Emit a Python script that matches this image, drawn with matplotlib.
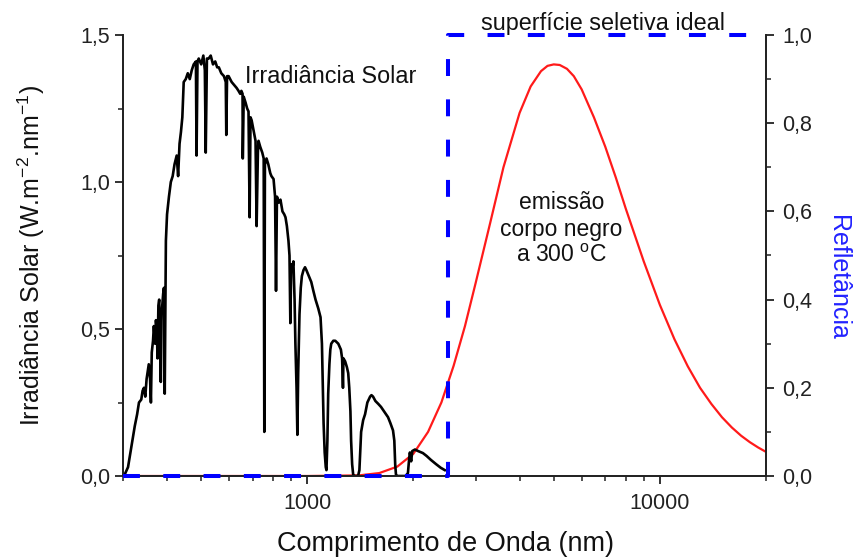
import matplotlib
matplotlib.use("Agg")
import matplotlib.pyplot as plt
from matplotlib.ticker import FixedLocator, FuncFormatter, NullFormatter, MultipleLocator

plt.rcParams['font.family'] = ['Liberation Sans', 'DejaVu Sans']
plt.rcParams['mathtext.fontset'] = 'custom'
plt.rcParams['mathtext.rm'] = 'Liberation Sans'
plt.rcParams['mathtext.it'] = 'Liberation Sans'

# Solar irradiance (nm, W m-2 nm-1)
solar_wl = [302, 310, 318, 324, 329, 333, 338, 341, 344, 347, 350, 355, 358, 360, 362, 365, 367,
            370, 372, 374, 376, 378, 380, 382, 384, 386, 390, 392, 393, 394, 396, 397, 400, 405,
            410, 415, 420, 426, 430, 434, 438, 442, 446, 452, 458, 464, 470, 476, 483, 485, 488,
            492, 500, 507, 512, 515, 519, 525, 532, 540, 548, 555, 561, 570, 580, 587, 589, 592,
            598, 610, 620, 630, 638, 645, 650, 655, 656, 660, 668, 675, 681, 686, 690, 695, 705,
            713, 718, 724, 727, 735, 745, 752, 755, 758, 766, 775, 785, 791, 802, 810, 815, 820,
            830, 839, 850, 860, 867, 875, 884, 890, 895, 900, 905, 913, 920, 925, 932, 937, 942,
            950, 958, 965, 975, 985, 994, 1010, 1026, 1040, 1055, 1074, 1090, 1100, 1106, 1112,
            1120, 1128, 1133, 1140, 1146, 1155, 1162, 1169, 1185, 1200, 1224, 1245, 1255, 1262,
            1266, 1280, 1295, 1306, 1315, 1325, 1331, 1340, 1349, 1360, 1393, 1405, 1415, 1421,
            1440, 1458, 1480, 1507, 1520, 1536, 1560, 1590, 1618, 1650, 1694, 1720, 1750, 1765,
            1775, 1784, 1800, 1900, 1929, 1945, 1954, 1970, 1985, 2019, 2060, 2127, 2180, 2240,
            2320, 2390, 2454]
solar_irr = [0.0, 0.03, 0.11, 0.17, 0.21, 0.25, 0.26, 0.29, 0.30, 0.27, 0.33, 0.38, 0.33, 0.25, 0.42,
             0.46, 0.51, 0.45, 0.53, 0.50, 0.40, 0.58, 0.60, 0.50, 0.32, 0.55, 0.62, 0.64, 0.52, 0.28,
             0.60, 0.80, 0.89, 0.95, 1.00, 1.02, 1.06, 1.09, 1.02, 1.13, 1.17, 1.22, 1.34, 1.35, 1.37,
             1.35, 1.38, 1.40, 1.41, 1.09, 1.41, 1.42, 1.40, 1.43, 1.38, 1.10, 1.42, 1.42, 1.43, 1.40,
             1.41, 1.39, 1.39, 1.37, 1.36, 1.34, 1.16, 1.36, 1.36, 1.34, 1.33, 1.32, 1.31, 1.30, 1.31,
             1.30, 1.08, 1.29, 1.27, 1.25, 1.24, 0.88, 1.22, 1.21, 1.17, 1.14, 0.85, 1.10, 1.14, 1.12,
             1.10, 1.08, 0.15, 1.06, 1.08, 1.06, 1.03, 1.02, 1.01, 0.95, 0.63, 0.95, 0.93, 0.94, 0.90,
             0.89, 0.88, 0.85, 0.80, 0.75, 0.52, 0.72, 0.70, 0.73, 0.60, 0.45, 0.30, 0.14, 0.35, 0.55,
             0.64, 0.68, 0.70, 0.71, 0.70, 0.68, 0.66, 0.63, 0.60, 0.57, 0.54, 0.45, 0.32, 0.18, 0.08,
             0.03, 0.02, 0.12, 0.28, 0.38, 0.43, 0.45, 0.46, 0.46, 0.45, 0.43, 0.40, 0.30, 0.40, 0.39,
             0.37, 0.35, 0.30, 0.22, 0.12, 0.04, 0.005, 0.0, 0.0, 0.02, 0.10, 0.15, 0.19, 0.21, 0.25,
             0.27, 0.275, 0.27, 0.255, 0.245, 0.235, 0.22, 0.20, 0.18, 0.155, 0.12, 0.04, 0.005, 0.0,
             0.0, 0.01, 0.06, 0.08, 0.05, 0.085, 0.09, 0.085, 0.078, 0.068, 0.055, 0.04, 0.028, 0.02]

# Black body emission at 300 C (normalised, left-axis units)
bb_wl = [300, 1000, 1400, 1600, 1800, 2000, 2200, 2400, 2600, 2800, 3000, 3300, 3600, 4000, 4300,
         4600, 4800, 5000, 5200, 5450, 5700, 6000, 6500, 7000, 7500, 8000, 9000, 10000, 11000,
         12000, 13000, 14000, 15000, 16000, 17000, 18000, 19000, 20000]
bb_val = [0.0, 0.0, 0.002, 0.01, 0.032, 0.076, 0.15, 0.25, 0.375, 0.51, 0.655, 0.86, 1.05, 1.235,
          1.325, 1.377, 1.395, 1.40, 1.398, 1.385, 1.36, 1.315, 1.22, 1.12, 1.015, 0.91, 0.73,
          0.582, 0.465, 0.373, 0.30, 0.245, 0.20, 0.165, 0.137, 0.115, 0.097, 0.082]

# Ideal selective surface reflectance
sel_wl = [300, 2500, 2500, 20000]
sel_ref = [0.0, 0.0, 1.0, 1.0]

x_major = [1000, 10000]
x_minor = [300, 400, 500, 600, 700, 800, 900, 2000, 3000, 4000, 5000, 6000, 7000, 8000, 9000, 20000]

fig = plt.figure(figsize=(8.57, 5.57), dpi=100)
ax = fig.add_axes([123/857, 1-476/557, 643/857, 441/557])
ax2 = ax.twinx()

ax.plot(solar_wl, solar_irr, color='black', lw=1.9, zorder=3)
ax.plot(bb_wl, bb_val, color='#ff1a1a', lw=1.6, zorder=2)
ax2.plot(sel_wl, sel_ref, color='#0000ff', lw=2.9, linestyle=(0, (4.2, 5.8)), clip_on=False, zorder=4)

ax.set_xscale('log')
ax.set_xlim(300, 20000)
ax.set_ylim(0, 1.5)
ax2.set_ylim(0, 1.0)

ax.xaxis.set_major_locator(FixedLocator(x_major))
ax.xaxis.set_minor_locator(FixedLocator(x_minor))
ax.xaxis.set_major_formatter(FuncFormatter(lambda v, p: f"{int(v)}"))
ax.xaxis.set_minor_formatter(NullFormatter())

comma = FuncFormatter(lambda v, p: f"{v:.1f}".replace('.', ','))
ax.yaxis.set_major_locator(MultipleLocator(0.5))
ax.yaxis.set_minor_locator(MultipleLocator(0.25))
ax.yaxis.set_major_formatter(comma)
ax2.yaxis.set_major_locator(MultipleLocator(0.2))
ax2.yaxis.set_minor_locator(MultipleLocator(0.1))
ax2.yaxis.set_major_formatter(comma)

for a in (ax, ax2):
    a.spines['top'].set_visible(False)
    for s in a.spines.values():
        s.set_linewidth(1.3)
        s.set_color('#222222')
    a.tick_params(which='major', length=6, width=1.3, direction='out', labelsize=15.5,
                  colors='#222222')
    a.tick_params(which='minor', length=3.5, width=1.1, direction='out', colors='#222222')
ax.tick_params(axis='y', which='major', pad=3.5)
ax2.tick_params(axis='y', which='major', pad=5.5)
ax.tick_params(axis='x', which='major', pad=6)

ax.set_xlabel('Comprimento de Onda (nm)', fontsize=19.5, color='#111111', va='top')
ax.xaxis.set_label_coords(0.502, -0.124)
ax.set_ylabel(r'Irradiância Solar (W.m$^{-2}$.nm$^{-1}$)', fontsize=18, color='#111111')
ax.yaxis.set_label_coords(-0.118, 0.5)
ax2.set_ylabel('Refletância', fontsize=18, color='#2222ff', rotation=270)
ax2.yaxis.set_label_coords(1.13, 0.45)

ax.text(0.190, 0.905, 'Irradiância Solar', transform=ax.transAxes, fontsize=16.8,
        ha='left', va='center', color='#111111')
ax.text(0.746, 1.025, 'superfície seletiva ideal', transform=ax.transAxes, fontsize=16.8,
        ha='center', va='center', color='#111111')
ax.text(0.682, 0.56, 'emissão\ncorpo negro\na 300 $^{\\mathregular{o}}$C', transform=ax.transAxes,
        fontsize=16.5, ha='center', va='center', color='#111111', linespacing=1.2)

fig.savefig('out.png', dpi=100)
